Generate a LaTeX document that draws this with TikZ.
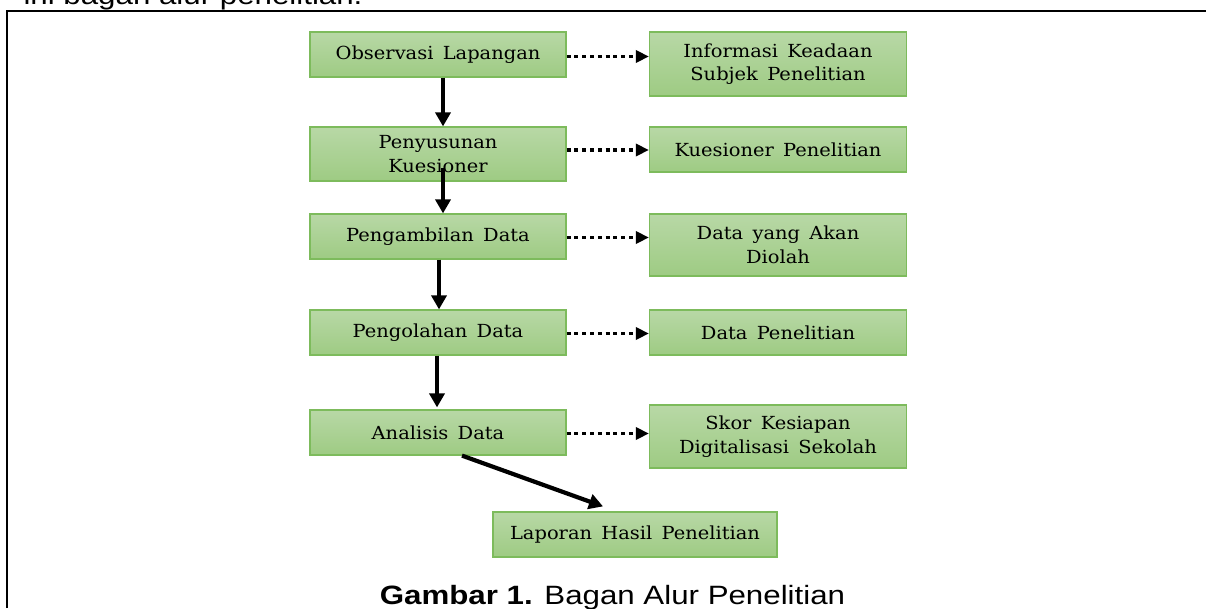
\documentclass[tikz,border=0pt]{standalone}
\usepackage{fontspec}
\usetikzlibrary{arrows.meta,calc}
\newfontfamily\boxfont[FakeStretch=1.08,WordSpace=1.5]{DejaVu Serif}
\newfontfamily\capfont[FakeStretch=1.18]{Liberation Sans}
\definecolor{boxtop}{RGB}{184,216,166}
\definecolor{boxbot}{RGB}{158,203,131}
\definecolor{boxline}{RGB}{125,187,92}
\tikzset{
  stepbox/.style={draw=boxline, line width=1.2pt, top color=boxtop, bottom color=boxbot,
    inner sep=0pt, align=center, font=\boxfont\fontsize{18}{23.5}\selectfont},
  flow/.style={line width=4.2pt, -{Triangle[length=14pt,width=15pt]}},
  result/.style={line width=3.6pt, dash pattern=on 4pt off 3.8pt, -{Triangle[length=13pt,width=12pt]}}
}
\begin{document}
\begin{tikzpicture}[x=1pt,y=-1pt]
		%%%%% START %%%%%
		\useasboundingbox (0,0) rectangle (1206,608);
		
		\node[anchor=base west, font=\capfont\fontsize{26.5}{30}\selectfont] (intro) at (20,4) {ini bagan alur penelitian.};
		\draw[line width=2pt] (7,608) -- (7,11) -- (1207,11);
		
		% alur utama
		\node[stepbox, minimum width=256pt, minimum height=45pt] (obs) at (438,54.5) {Observasi Lapangan};
		\node[stepbox, minimum width=256pt, minimum height=54pt] (kues) at (438,154) {Penyusunan\\Kuesioner};
		\node[stepbox, minimum width=256pt, minimum height=45pt] (ambil) at (438,236.5) {Pengambilan Data};
		\node[stepbox, minimum width=256pt, minimum height=45pt] (olah) at (438,332.5) {Pengolahan Data};
		\node[stepbox, minimum width=256pt, minimum height=45pt] (analisis) at (438,432.5) {Analisis Data};
		\node[stepbox, minimum width=284pt, minimum height=45pt] (laporan) at (635,534.5) {Laporan Hasil Penelitian};
		
		% hasil
		\node[stepbox, minimum width=257pt, minimum height=64pt] (info) at (778,64) {Informasi Keadaan\\Subjek Penelitian};
		\node[stepbox, minimum width=257pt, minimum height=45pt] (kuespen) at (778,149.5) {Kuesioner Penelitian};
		\node[stepbox, minimum width=257pt, minimum height=62pt] (dataolah) at (778,245) {Data yang Akan\\Diolah};
		\node[stepbox, minimum width=257pt, minimum height=45pt] (datapen) at (778,332.5) {Data Penelitian};
		\node[stepbox, minimum width=257pt, minimum height=63pt] (skor) at (778,436.5) {Skor Kesiapan\\Digitalisasi Sekolah};
		
		\draw[flow] ([xshift=5pt]obs.south) -- ([xshift=5pt]kues.north);
		\coordinate (kuesin) at (443,168);
		\draw[flow] (kuesin) -- (kuesin |- ambil.north);
		\draw[flow] ([xshift=1pt]ambil.south) -- ([xshift=1pt]olah.north);
		\draw[flow] ([xshift=-1pt]olah.south) -- ([xshift=-1pt,yshift=2pt]analisis.north);
		\draw[flow] ([xshift=24pt]analisis.south) -- ([xshift=-32pt,yshift=5pt]laporan.north);
		
		\draw[result] ([yshift=-2pt]obs.east) -- ([yshift=-2pt]obs.east -| info.west);
		\draw[result] ([yshift=4pt]kues.east) -- ([yshift=4pt]kues.east -| kuespen.west);
		\draw[result] ([yshift=-1pt]ambil.east) -- ([yshift=-1pt]ambil.east -| dataolah.west);
		\draw[result] ([yshift=-1pt]olah.east) -- ([yshift=-1pt]olah.east -| datapen.west);
		\draw[result] ([yshift=-1pt]analisis.east) -- ([yshift=-1pt]analisis.east -| skor.west);
		
		\node[anchor=base, font=\capfont\fontsize{26.5}{30}\selectfont] (caption) at (612.5,604) {\textbf{Gambar 1.} Bagan Alur Penelitian};
		%%%%% END %%%%%
\end{tikzpicture}
\end{document}
